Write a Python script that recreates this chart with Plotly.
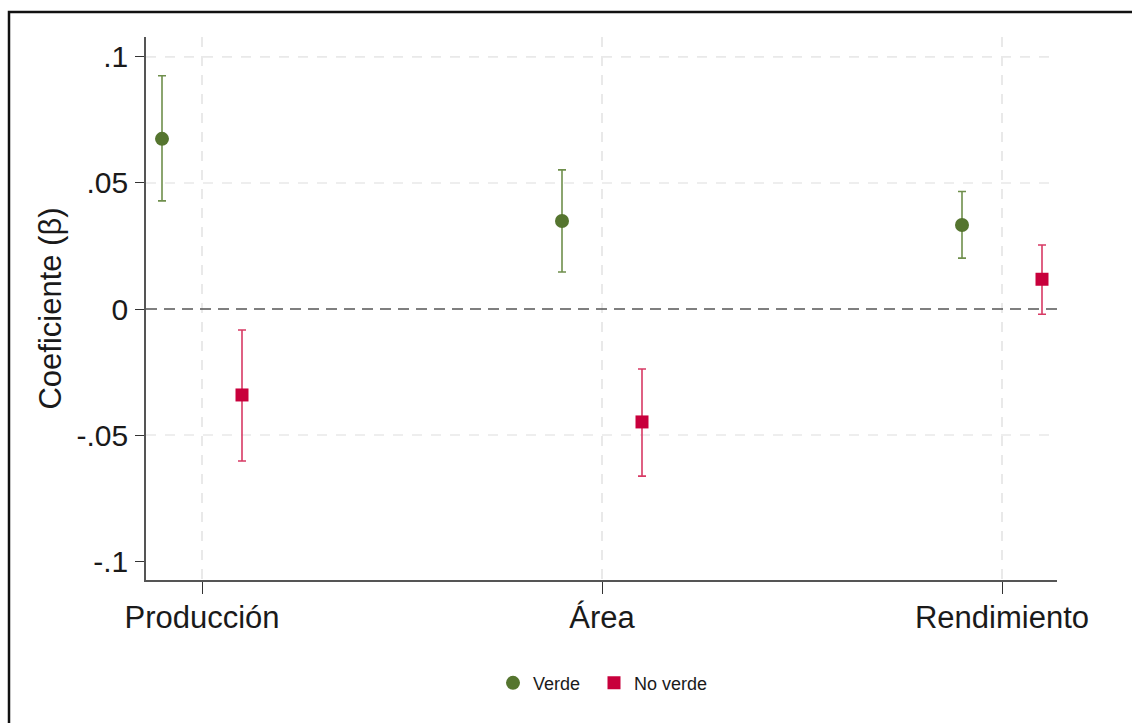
import plotly.graph_objects as go

categories = ["Producción", "Área", "Rendimiento"]
cat_pos = [1, 2, 3]
offset = 0.1

verde_coef = [0.0675, 0.0349, 0.0333]
verde_hi = [0.0925, 0.0552, 0.0466]
verde_lo = [0.0429, 0.0147, 0.0202]

noverde_coef = [-0.0341, -0.0448, 0.0118]
noverde_hi = [-0.0083, -0.0238, 0.0254]
noverde_lo = [-0.0603, -0.0663, -0.0021]

ytick_vals = [-0.1, -0.05, 0, 0.05, 0.1]
ytick_text = ["-.1", "-.05", "0", ".05", ".1"]
ygrid_vals = [-0.05, 0.05, 0.1]

GREEN = "#55752f"
GREEN_CI = "#6f8f4c"
RED = "#c8003c"
RED_CI = "#d83a64"
FONT = "Liberation Sans, Arial, sans-serif"

fig = go.Figure()

fig.add_trace(go.Scatter(
    x=[p - offset for p in cat_pos], y=verde_coef, mode="markers", name="Verde",
    legend="legend",
    marker=dict(symbol="circle", size=14, color=GREEN),
    error_y=dict(type="data", symmetric=False,
                 array=[h - c for h, c in zip(verde_hi, verde_coef)],
                 arrayminus=[c - l for c, l in zip(verde_coef, verde_lo)],
                 color=GREEN_CI, thickness=1.6, width=4),
))
fig.add_trace(go.Scatter(
    x=[p + offset for p in cat_pos], y=noverde_coef, mode="markers", name="No verde",
    legend="legend2",
    marker=dict(symbol="square", size=13, color=RED),
    error_y=dict(type="data", symmetric=False,
                 array=[h - c for h, c in zip(noverde_hi, noverde_coef)],
                 arrayminus=[c - l for c, l in zip(noverde_coef, noverde_lo)],
                 color=RED_CI, thickness=1.6, width=4),
))

shapes = []
for g in ygrid_vals:
    shapes.append(dict(type="line", xref="paper", yref="y", x0=0, x1=1, y0=g, y1=g,
                       line=dict(color="#e9e9e9", width=1.6, dash="10px,9px"), layer="below"))
shapes.append(dict(type="line", xref="paper", yref="y", x0=0, x1=1, y0=0, y1=0,
                   line=dict(color="#555555", width=1.5, dash="11px,7px"), layer="above"))
# outer frame (image is cropped at right/bottom)
shapes.append(dict(type="rect", xref="paper", yref="paper",
                   x0=(9 - 146) / 911, x1=1.2, y0=(580 - 12) / 543, y1=-0.5,
                   line=dict(color="#111111", width=2.5), fillcolor="rgba(0,0,0,0)"))

leg_common = dict(orientation="h", xanchor="left", y=-0.19, yanchor="middle",
                  font=dict(size=18, family=FONT), itemsizing="trace",
                  bgcolor="rgba(0,0,0,0)")

fig.update_layout(
    width=1132, height=723,
    margin=dict(l=146, r=75, t=37, b=143),
    paper_bgcolor="white", plot_bgcolor="white",
    font=dict(family=FONT, color="#1a1a1a"),
    showlegend=True,
    legend=dict(x=(493 - 146) / 911, **leg_common),
    legend2=dict(x=(594 - 146) / 911, **leg_common),
    shapes=shapes,
    xaxis=dict(range=[0.86, 3.1375], tickvals=cat_pos, ticktext=categories,
               showgrid=True, gridcolor="#e9e9e9", gridwidth=1.6, griddash="10px,9px",
               showline=True, linecolor="#555555", linewidth=1.6,
               ticks="outside", ticklen=12, tickcolor="#333333", tickwidth=1.2,
               ticklabelstandoff=-3,
               tickfont=dict(size=31, family=FONT, color="#1a1a1a"), zeroline=False),
    yaxis=dict(range=[-0.1075, 0.1079], tickvals=ytick_vals, ticktext=ytick_text,
               showgrid=False, showline=True, linecolor="#555555", linewidth=1.6,
               ticks="outside", ticklen=9, tickcolor="#333333", tickwidth=1.2,
               ticklabelstandoff=1,
               tickfont=dict(size=30, family=FONT, color="#1a1a1a"), zeroline=False,
               title=dict(text="Coeficiente (β)", font=dict(size=31, family=FONT, color="#1a1a1a"),
                          standoff=6)),
)

fig.write_html("out.html")
